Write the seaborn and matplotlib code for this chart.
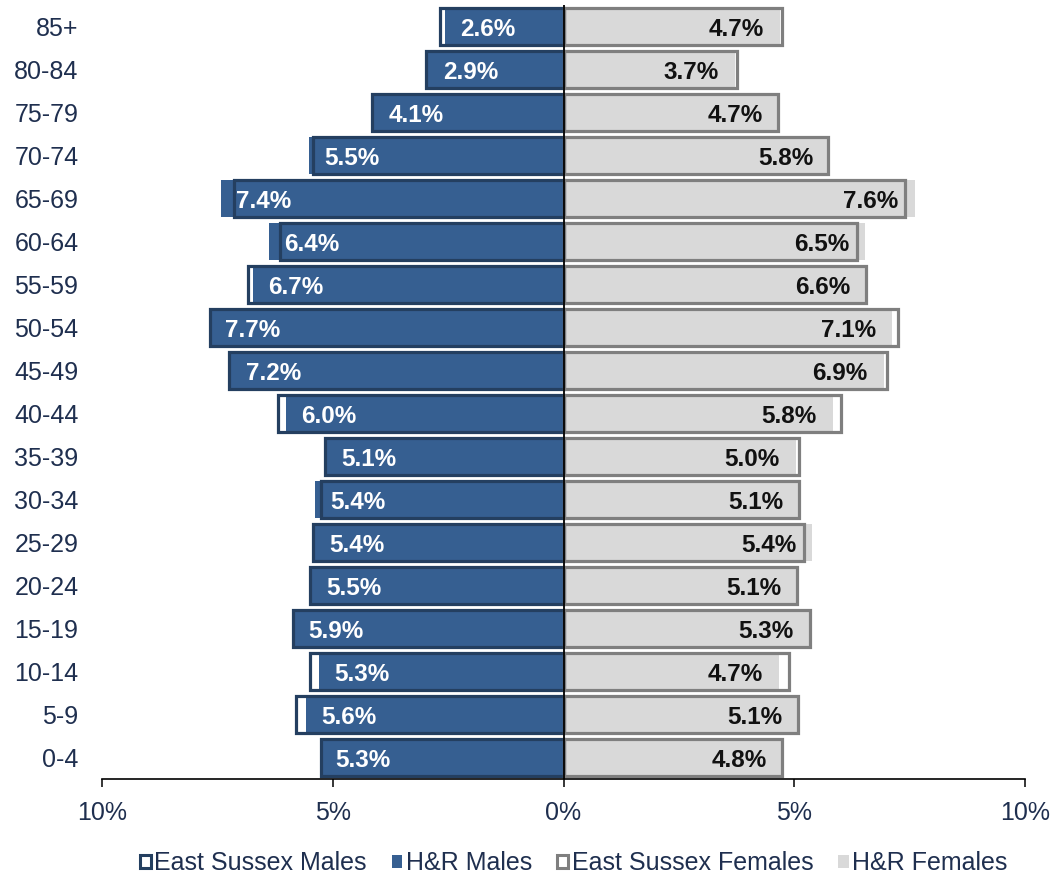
import matplotlib
matplotlib.use("Agg")
import matplotlib.pyplot as plt
from matplotlib.patches import Patch
import seaborn as sns
import pandas as pd

ages = ["85+", "80-84", "75-79", "70-74", "65-69", "60-64", "55-59", "50-54", "45-49",
        "40-44", "35-39", "30-34", "25-29", "20-24", "15-19", "10-14", "5-9", "0-4"]
hr_males = [2.57, 2.93, 4.12, 5.52, 7.42, 6.38, 6.73, 7.66, 7.22,
            6.02, 5.14, 5.38, 5.40, 5.48, 5.87, 5.30, 5.58, 5.27]
es_males = [2.68, 2.98, 4.14, 5.43, 7.13, 6.15, 6.84, 7.66, 7.24,
            6.18, 5.17, 5.26, 5.42, 5.49, 5.87, 5.49, 5.79, 5.25]
hr_females = [4.69, 3.72, 4.66, 5.76, 7.61, 6.53, 6.57, 7.11, 6.94,
              5.83, 5.03, 5.10, 5.39, 5.07, 5.33, 4.67, 5.08, 4.76]
es_females = [4.73, 3.75, 4.65, 5.73, 7.41, 6.35, 6.56, 7.25, 7.02,
              6.02, 5.10, 5.11, 5.22, 5.05, 5.35, 4.89, 5.08, 4.73]
xticks = [-10, -5, 0, 5, 10]
xtick_labels = ["10%", "5%", "0%", "5%", "10%"]
series_names = ["East Sussex Males", "H&R Males", "East Sussex Females", "H&R Females"]

C_MALE = "#365F91"
C_MALE_EDGE = "#243F60"
C_FEM = "#D9D9D9"
C_FEM_EDGE = "#7F7F7F"
C_TEXT = "#1F2F4F"

sns.set_theme(style="white")
plt.rcParams["font.family"] = ["Liberation Sans", "DejaVu Sans"]

df = pd.DataFrame({
    "age": ages,
    "hr_m": [-v for v in hr_males],
    "es_m": [-v for v in es_males],
    "hr_f": hr_females,
    "es_f": es_females,
})

fig = plt.figure(figsize=(10.56, 8.76), dpi=100)
ax = fig.add_axes([102 / 1056, 1 - 779 / 876, (1025 - 102) / 1056, (779 - 5) / 876])

W = 0.84
sns.barplot(data=df, x="hr_m", y="age", order=ages, orient="h", color=C_MALE,
            saturation=1, width=W, errorbar=None, linewidth=0, ax=ax)
sns.barplot(data=df, x="hr_f", y="age", order=ages, orient="h", color=C_FEM,
            saturation=1, width=W, errorbar=None, linewidth=0, ax=ax)
sns.barplot(data=df, x="es_m", y="age", order=ages, orient="h", color=C_MALE_EDGE,
            saturation=1, width=W, errorbar=None, fill=False, linewidth=2.3, ax=ax)
sns.barplot(data=df, x="es_f", y="age", order=ages, orient="h", color=C_FEM_EDGE,
            saturation=1, width=W, errorbar=None, fill=False, linewidth=2.3, ax=ax)

# data labels (H&R values)
for i, (m, f) in enumerate(zip(hr_males, hr_females)):
    ax.annotate(f"{m:.1f}%", xy=(-m, i), xytext=(11, -2), textcoords="offset points",
                ha="left", va="center", color="white", fontsize=17.5, fontweight="bold")
    ax.annotate(f"{f:.1f}%", xy=(f, i), xytext=(-11.5, -2), textcoords="offset points",
                ha="right", va="center", color="#111111", fontsize=17.5, fontweight="bold")

ax.axvline(0, color="black", linewidth=1.3, zorder=5)

ax.set_xlim(-10, 10)
ax.set_ylim(len(ages) - 0.5, -0.5)
ax.set_xticks(xticks)
ax.set_xticklabels(xtick_labels)
ax.set_xlabel("")
ax.set_ylabel("")
for s in ["top", "right", "left"]:
    ax.spines[s].set_visible(False)
ax.spines["bottom"].set_color("black")
ax.spines["bottom"].set_linewidth(1.2)
ax.tick_params(axis="x", direction="out", length=6, width=1.1, color="black",
               labelsize=18, labelcolor=C_TEXT, pad=10, bottom=True)
ax.tick_params(axis="y", length=0, labelsize=18, labelcolor=C_TEXT, pad=17)

handles = [
    Patch(facecolor="white", edgecolor=C_MALE_EDGE, linewidth=2.2),
    Patch(facecolor=C_MALE, edgecolor=C_MALE, linewidth=0),
    Patch(facecolor="white", edgecolor=C_FEM_EDGE, linewidth=2.2),
    Patch(facecolor=C_FEM, edgecolor=C_FEM, linewidth=0),
]
leg = fig.legend(handles, series_names, loc="center", bbox_to_anchor=(574 / 1056, 1 - 863 / 876),
                 ncol=4, frameon=False, fontsize=18, handlelength=0.42, handleheight=0.42,
                 handletextpad=0.15, columnspacing=1.0, labelcolor=C_TEXT)

fig.savefig("out.png", dpi=100)
